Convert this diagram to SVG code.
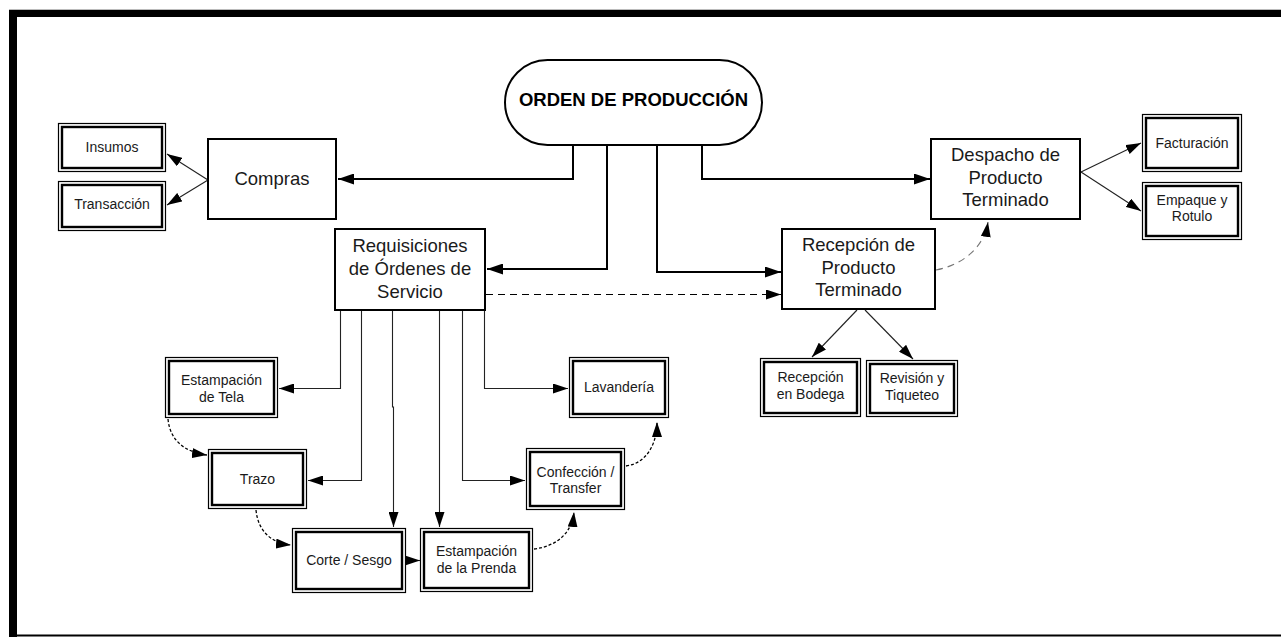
<svg xmlns="http://www.w3.org/2000/svg" width="1281" height="637" viewBox="0 0 1281 637">
<defs>
<marker id="ah" viewBox="0 0 16 11" refX="16" refY="5.5" markerWidth="16" markerHeight="11" orient="auto" markerUnits="userSpaceOnUse"><path d="M0,0 L16,5.5 L0,11 z" fill="#000"/></marker>
<marker id="as" viewBox="0 0 15 10" refX="15" refY="5" markerWidth="15" markerHeight="10" orient="auto" markerUnits="userSpaceOnUse"><path d="M0,0 L15,5 L0,10 z" fill="#000"/></marker>
</defs>
<style>
.bg{fill:#fff}
.box{fill:#fff;stroke:#000;stroke-width:2}
.o{fill:#fff;stroke:#000;stroke-width:1.2}
.i{fill:none;stroke:#000;stroke-width:2.4}
.t{font-family:"Liberation Sans",Arial,sans-serif;font-size:18.5px;fill:#1a1a1a;text-anchor:middle}
.s{font-family:"Liberation Sans",Arial,sans-serif;font-size:14px;fill:#1a1a1a;text-anchor:middle}
.b{font-family:"Liberation Sans",Arial,sans-serif;font-size:18.5px;font-weight:bold;fill:#000;text-anchor:middle}
.thick{fill:none;stroke:#000;stroke-width:2;marker-end:url(#ah)}
.thin{fill:none;stroke:#222;stroke-width:1.1;marker-end:url(#as)}
.dash{fill:none;stroke:#000;stroke-width:1;stroke-dasharray:7 5;marker-end:url(#as)}
.gdash{fill:none;stroke:#777;stroke-width:1.1;stroke-dasharray:7 5;marker-end:url(#as)}
.dot{fill:none;stroke:#000;stroke-width:1.3;stroke-dasharray:3 2;marker-end:url(#as)}
</style>
<rect class="bg" x="0" y="0" width="1281" height="637"/>
<g id="frame">
<rect x="9" y="9" width="1272" height="1" fill="#bbb"/>
<rect x="9" y="10" width="1272" height="7" fill="#000"/>
<rect x="9" y="10" width="8" height="627" fill="#000"/>
<rect x="9" y="634.5" width="1272" height="2" fill="#000"/>
</g>
<g id="connectors">
<path class="thick" d="M573,145 V179 H338"/>
<path class="thick" d="M607,145 V269 H487"/>
<path class="thick" d="M657,145 V272 H781"/>
<path class="thick" d="M702,145 V179 H930"/>
<path class="dash" d="M486,294.5 H781"/>
<path class="gdash" d="M936,270 C962,265 984,248 988,222"/>
<path class="thin" d="M208,180 L167,154"/>
<path class="thin" d="M208,180 L167,205"/>
<path class="thin" d="M1081,172 L1141,143"/>
<path class="thin" d="M1081,172 L1141,211"/>
<path class="thin" d="M857,310 L812,357"/>
<path class="thin" d="M865,310 L913,359"/>
<path class="thin" d="M340.5,311 V388.5 H279"/>
<path class="thin" d="M361.5,311 V480.5 H308"/>
<path class="thin" d="M392.5,311 V407 H393.5 V527"/>
<path class="thin" d="M439.5,311 V527"/>
<path class="thin" d="M462.5,311 V480.5 H525"/>
<path class="thin" d="M484.5,311 V388.5 H568"/>
<path class="thin" d="M406,560.5 H420"/>
<path class="dot" d="M168,419 C170,440 184,452 207,455"/>
<path class="dot" d="M256,510 C258,530 270,543 291,545"/>
<path class="dot" d="M534,549 C558,546 572,532 574,512"/>
<path class="dot" d="M626,466 C648,463 657,442 657,422"/>
</g>
<g id="orden">
<rect class="box" x="505" y="60" width="257" height="85" rx="42.5"/>
<text class="b" x="633.5" y="105.5">ORDEN DE PRODUCCIÓN</text>
</g>
<g id="compras">
<rect class="box" x="208" y="139" width="128" height="80"/>
<text class="t" x="272" y="184.5">Compras</text>
</g>
<g id="insumos">
<rect class="o" x="58.5" y="123.5" width="107" height="48"/>
<rect class="i" x="62" y="127" width="100" height="41"/>
<text class="s" x="112" y="152">Insumos</text>
</g>
<g id="transaccion">
<rect class="o" x="58.5" y="181.5" width="107" height="49"/>
<rect class="i" x="62" y="185" width="100" height="42"/>
<text class="s" x="112" y="208.5">Transacción</text>
</g>
<g id="requisiciones">
<rect class="box" x="335" y="229" width="150" height="81"/>
<text class="t" x="410" y="252">Requisiciones</text>
<text class="t" x="410" y="275">de Órdenes de</text>
<text class="t" x="410" y="297.5">Servicio</text>
</g>
<g id="recepcion">
<rect class="box" x="782" y="229" width="153" height="80"/>
<text class="t" x="858.5" y="251">Recepción de</text>
<text class="t" x="858.5" y="273.5">Producto</text>
<text class="t" x="858.5" y="296">Terminado</text>
</g>
<g id="despacho">
<rect class="box" x="931" y="139" width="149" height="80"/>
<text class="t" x="1005.5" y="161">Despacho de</text>
<text class="t" x="1005.5" y="183.5">Producto</text>
<text class="t" x="1005.5" y="206">Terminado</text>
</g>
<g id="facturacion">
<rect class="o" x="1142.5" y="114.5" width="99" height="57"/>
<rect class="i" x="1146" y="118" width="92" height="50"/>
<text class="s" x="1192" y="148">Facturación</text>
</g>
<g id="empaque">
<rect class="o" x="1142.5" y="182.5" width="99" height="57"/>
<rect class="i" x="1146" y="186" width="92" height="50"/>
<text class="s" x="1192" y="204.5">Empaque y</text>
<text class="s" x="1192" y="221">Rotulo</text>
</g>
<g id="bodega">
<rect class="o" x="760.5" y="358.5" width="100" height="58"/>
<rect class="i" x="764" y="362" width="93" height="51"/>
<text class="s" x="810.5" y="382">Recepción</text>
<text class="s" x="810.5" y="398.5">en Bodega</text>
</g>
<g id="revision">
<rect class="o" x="866.5" y="360.5" width="91" height="56"/>
<rect class="i" x="870" y="364" width="84" height="49"/>
<text class="s" x="912" y="382.5">Revisión y</text>
<text class="s" x="912" y="400">Tiqueteo</text>
</g>
<g id="estampacion-tela">
<rect class="o" x="165.5" y="357.5" width="112" height="60"/>
<rect class="i" x="169" y="361" width="105" height="53"/>
<text class="s" x="221.5" y="385">Estampación</text>
<text class="s" x="221.5" y="401.5">de Tela</text>
</g>
<g id="trazo">
<rect class="o" x="208.5" y="449.5" width="98" height="59"/>
<rect class="i" x="212" y="453" width="91" height="52"/>
<text class="s" x="257.5" y="483.5">Trazo</text>
</g>
<g id="corte">
<rect class="o" x="292.5" y="528.5" width="113" height="64"/>
<rect class="i" x="296" y="532" width="106" height="57"/>
<text class="s" x="349" y="564.5">Corte / Sesgo</text>
</g>
<g id="estampacion-prenda">
<rect class="o" x="420.5" y="528.5" width="112" height="63"/>
<rect class="i" x="424" y="532" width="105" height="56"/>
<text class="s" x="476.5" y="556">Estampación</text>
<text class="s" x="476.5" y="572.5">de la Prenda</text>
</g>
<g id="confeccion">
<rect class="o" x="526.5" y="448.5" width="98" height="61"/>
<rect class="i" x="530" y="452" width="91" height="54"/>
<text class="s" x="575.5" y="476.5">Confección /</text>
<text class="s" x="575.5" y="493">Transfer</text>
</g>
<g id="lavanderia">
<rect class="o" x="569.5" y="357.5" width="99" height="60"/>
<rect class="i" x="573" y="361" width="92" height="53"/>
<text class="s" x="619" y="392">Lavandería</text>
</g>
</svg>
